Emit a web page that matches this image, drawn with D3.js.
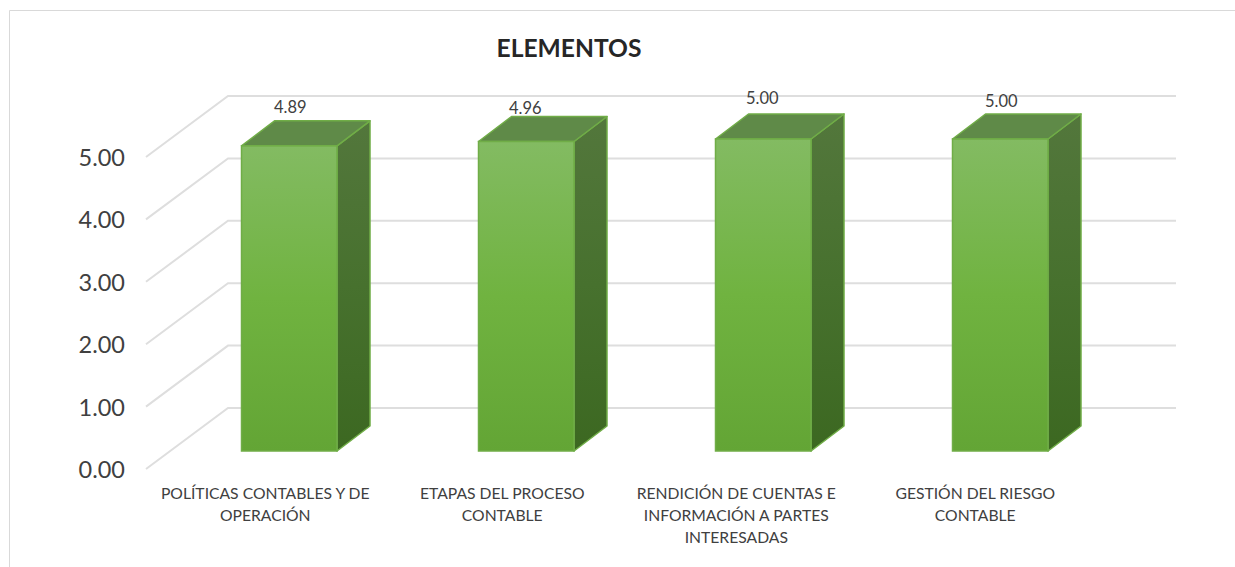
<!DOCTYPE html>
<html>
<head>
<meta charset="utf-8">
<script src="https://cdn.jsdelivr.net/npm/d3@7"></script>
<style>
  html, body { margin: 0; padding: 0; background: #fff; }
  svg { display: block; }
  text { font-family: Lato, "Open Sans", sans-serif; }
</style>
</head>
<body>
<script>
const categories = [
    ['POLÍTICAS CONTABLES Y DE', 'OPERACIÓN'],
    ['ETAPAS DEL PROCESO', 'CONTABLE'],
    ['RENDICIÓN DE CUENTAS E', 'INFORMACIÓN A PARTES', 'INTERESADAS'],
    ['GESTIÓN DEL RIESGO', 'CONTABLE']
];
const values = [4.89, 4.96, 5.00, 5.00];
const tickValues = [0, 1, 2, 3, 4, 5];

const width = 1235;
const height = 567;

// labels are not quite centred under the bars in the original
const labelShift = [-24, -24, -27, -25];
const valueShift = [[1, -14], [-1, -8], [-1, -16], [1, -13]];

const svg = d3.select('body')
    .append('svg')
    .attr('width', width)
    .attr('height', height);

const y = d3.scaleLinear().domain([0, 5]).range([469, 157]);
const x = d3.scaleBand()
    .domain(d3.range(categories.length))
    .range([170.76, 1118.76])
    .paddingInner(0.597)
    .paddingOuter(0.2985);

// depth of the wall and of the bars
const wallDx = 82, wallDy = -61;
const barDx = 33, barDy = -25;
const baseGap = 18; // front of the bar stands this far above the wall front

const defs = svg.append('defs');

function addGradient(id, stops) {
    const g = defs.append('linearGradient')
        .attr('id', id)
        .attr('x1', '0%').attr('y1', '0%')
        .attr('x2', '0%').attr('y2', '100%');
    stops.forEach(s => g.append('stop').attr('offset', s[0]).attr('stop-color', s[1]));
}
addGradient('front', [['0%', '#83bb62'], ['50%', '#70b340'], ['100%', '#63a535']]);
addGradient('side', [['0%', '#53773c'], ['50%', '#47712e'], ['100%', '#3c6821']]);

// frame, top and left only
svg.append('path')
    .attr('d', `M9.5,${height}V10.5H${width}`)
    .attr('fill', 'none')
    .attr('stroke', '#d9d9d9')
    .attr('stroke-width', 1);

svg.append('text')
    .attr('x', 569)
    .attr('y', 57)
    .attr('text-anchor', 'middle')
    .attr('font-size', 24.6)
    .attr('font-weight', 700)
    .attr('fill', '#262626')
    .text('ELEMENTOS');

// walls
const wallLeft = 146;
const wallRight = 1176;
const grid = svg.append('g');
grid.selectAll('path')
    .data(tickValues)
    .enter()
    .append('path')
    .attr('d', d => `M${wallLeft},${y(d)}L${wallLeft + wallDx},${y(d) + wallDy}H${wallRight}`)
    .attr('fill', 'none')
    .attr('stroke', '#dedede')
    .attr('stroke-width', 2);

const axis = d3.axisLeft(y)
    .tickValues(tickValues)
    .tickFormat(d3.format('.2f'))
    .tickSize(0)
    .tickPadding(0);

const axisG = svg.append('g')
    .attr('transform', `translate(${wallLeft - 21},1)`)
    .call(axis);
axisG.select('.domain').remove();
axisG.selectAll('text')
    .attr('font-size', 23.5)
    .attr('font-family', 'Lato, "Open Sans", sans-serif')
    .attr('fill', '#404040');

// bars
const bars = svg.selectAll('g.bar')
    .data(values)
    .enter()
    .append('g')
    .attr('class', 'bar');

const baseY = y(0) - baseGap;
const valueHeight = d => y(0) - y(d);

bars.append('path')
    .attr('d', (d, i) => {
        const x0 = x(i), x1 = x0 + x.bandwidth(), top = baseY - valueHeight(d);
        return `M${x1},${top}L${x1 + barDx},${top + barDy}V${baseY + barDy}L${x1},${baseY}Z`;
    })
    .attr('fill', 'url(#side)')
    .attr('stroke', '#70ad47')
    .attr('stroke-width', 1.5)
    .attr('stroke-linejoin', 'round');

bars.append('path')
    .attr('d', (d, i) => {
        const x0 = x(i), x1 = x0 + x.bandwidth(), top = baseY - valueHeight(d);
        return `M${x0},${top}L${x0 + barDx},${top + barDy}H${x1 + barDx}L${x1},${top}Z`;
    })
    .attr('fill', '#5f8a48')
    .attr('stroke', '#70ad47')
    .attr('stroke-width', 1.5)
    .attr('stroke-linejoin', 'round');

bars.append('rect')
    .attr('x', (d, i) => x(i))
    .attr('y', d => baseY - valueHeight(d))
    .attr('width', x.bandwidth())
    .attr('height', d => valueHeight(d))
    .attr('fill', 'url(#front)')
    .attr('stroke', '#70ad47')
    .attr('stroke-width', 1.5);

bars.append('text')
    .attr('x', (d, i) => x(i) + x.bandwidth() / 2 + valueShift[i][0])
    .attr('y', d => baseY - valueHeight(d) + barDy)
    .attr('dy', (d, i) => valueShift[i][1] + 6)
    .attr('text-anchor', 'middle')
    .attr('font-size', 16.5)
    .attr('fill', '#404040')
    .text(d => d3.format('.2f')(d));

// category labels
svg.selectAll('text.cat')
    .data(categories)
    .enter()
    .append('text')
    .attr('class', 'cat')
    .attr('text-anchor', 'middle')
    .attr('font-size', 15.7)
    .attr('fill', '#404040')
    .each(function (lines, i) {
        d3.select(this).selectAll('tspan')
            .data(lines)
            .enter()
            .append('tspan')
            .attr('x', x(i) + x.bandwidth() / 2 + labelShift[i])
            .attr('y', (l, j) => 499 + j * 22)
            .text(l => l);
    });
</script>
</body>
</html>
